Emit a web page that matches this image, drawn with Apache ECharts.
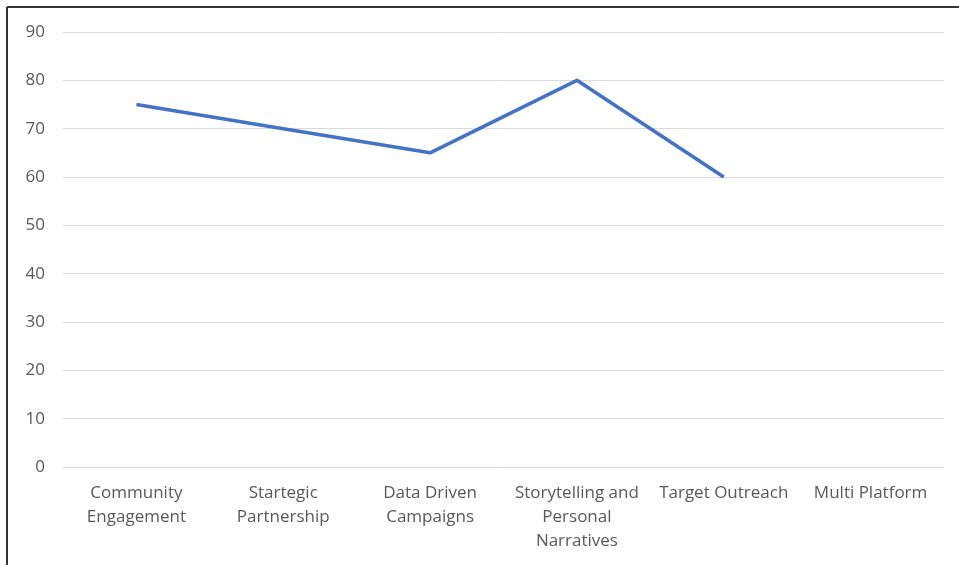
<!DOCTYPE html>
<html>
<head>
<meta charset="utf-8">
<script src="https://cdn.jsdelivr.net/npm/echarts@6/dist/echarts.min.js"></script>
<style>
html,body{margin:0;padding:0;background:#fff;}
#chart{width:959px;height:565px;}
</style>
</head>
<body>
<div id="chart"></div>
<script>
const categories = ["Community\nEngagement", "Startegic\nPartnership", "Data Driven\nCampaigns", "Storytelling and\nPersonal\nNarratives", "Target Outreach", "Multi Platform"];
const values = [75, 70, 65, 80, 60, null];
const yTicks = { min: 0, max: 90, interval: 10 };

const chart = echarts.init(document.getElementById('chart'));
chart.setOption({
  animation: false,
  backgroundColor: '#fff',
  grid: { left: 63, right: 15, top: 32, bottom: 98, containLabel: false },
  graphic: [
    { type: 'line', shape: { x1: 7, y1: 7, x2: 959, y2: 7 }, style: { stroke: '#333', lineWidth: 2 } },
    { type: 'line', shape: { x1: 7, y1: 7, x2: 7, y2: 565 }, style: { stroke: '#333', lineWidth: 2 } }
  ],
  xAxis: {
    type: 'category',
    data: categories,
    boundaryGap: true,
    axisLine: { show: false },
    axisTick: { show: false },
    axisLabel: { color: '#595959', fontSize: 17, fontFamily: 'Open Sans', margin: 14, lineHeight: 24, interval: 0 }
  },
  yAxis: {
    type: 'value',
    min: yTicks.min, max: yTicks.max, interval: yTicks.interval,
    axisLine: { show: false },
    axisTick: { show: false },
    splitLine: { lineStyle: { color: '#d9d9d9', width: 1 } },
    axisLabel: { color: '#595959', fontSize: 17, fontFamily: 'Open Sans', margin: 18 }
  },
  series: [{
    type: 'line',
    data: values,
    showSymbol: false,
    symbol: 'none',
    lineStyle: { color: '#4472C4', width: 3.5 },
    connectNulls: false
  }]
});
</script>
</body>
</html>
